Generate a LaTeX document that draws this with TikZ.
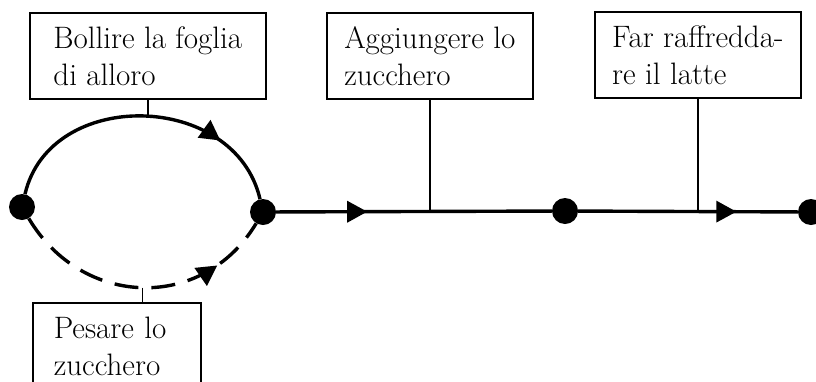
\documentclass[tikz,border=0pt]{standalone}
\usetikzlibrary{decorations.markings}
\begin{document}
\begin{tikzpicture}[x=1pt,y=-1pt,
  flow/.style={line width=3.4pt},
  stem/.style={line width=1.8pt},
  dot/.style={circle,fill=black,inner sep=0pt,minimum size=26pt},
  box/.style={draw,line width=1.6pt,rectangle,anchor=north west,align=left,inner xsep=10pt,inner ysep=0pt,font=\fontsize{31}{37}\selectfont},
  arrowat/.style={decoration={markings,mark=at position #1 with {\fill (0pt,0pt) -- (-20pt,11pt) -- (-20pt,-11pt) -- cycle;}},postaction=decorate}]
\useasboundingbox (0,0) rectangle (816,381);
% boxes
\node[box,minimum width=236pt,minimum height=86pt] (b1) at (29,12) {Bollire la foglia\\di alloro};
\node[box,minimum width=168pt,minimum height=87pt,text width=126pt,inner xsep=21pt] (b2) at (32,302) {Pesare lo\\zucchero};
\node[box,minimum width=206pt,minimum height=86pt] (b3) at (326,12) {Aggiungere lo\\zucchero};
\node[box,minimum width=206pt,minimum height=86pt] (b4) at (594,11) {Far raffredda-\\re il latte};
% dots
\node[dot] (d1) at (22,207) {};
\node[dot] (d2) at (263,212) {};
\node[dot] (d3) at (565,211) {};
\node[dot] (d4) at (811,212) {};
% arcs
\draw[flow,arrowat=0.765] (d1) .. controls (50,87) and (235,91) .. coordinate[pos=0.5] (utop) (d2);
\draw[flow,dash pattern=on 24pt off 13pt,arrowat=0.79] (d1) .. controls (82,308) and (203,312) .. coordinate[pos=0.5] (ltop) (d2);
% main line
\draw[flow,arrowat=0.33] (d2) -- (d3);
\draw[flow,arrowat=0.72] (d3) -- (d4);
% stems
\draw[stem] (b1.south) -- (b1.south |- utop);
\draw[stem] (ltop) -- (ltop |- b2.north);
\draw[stem] (b3.south) -- (b3.south |- d3);
\draw[stem] (b4.south) -- (b4.south |- d3);
\end{tikzpicture}
\end{document}
